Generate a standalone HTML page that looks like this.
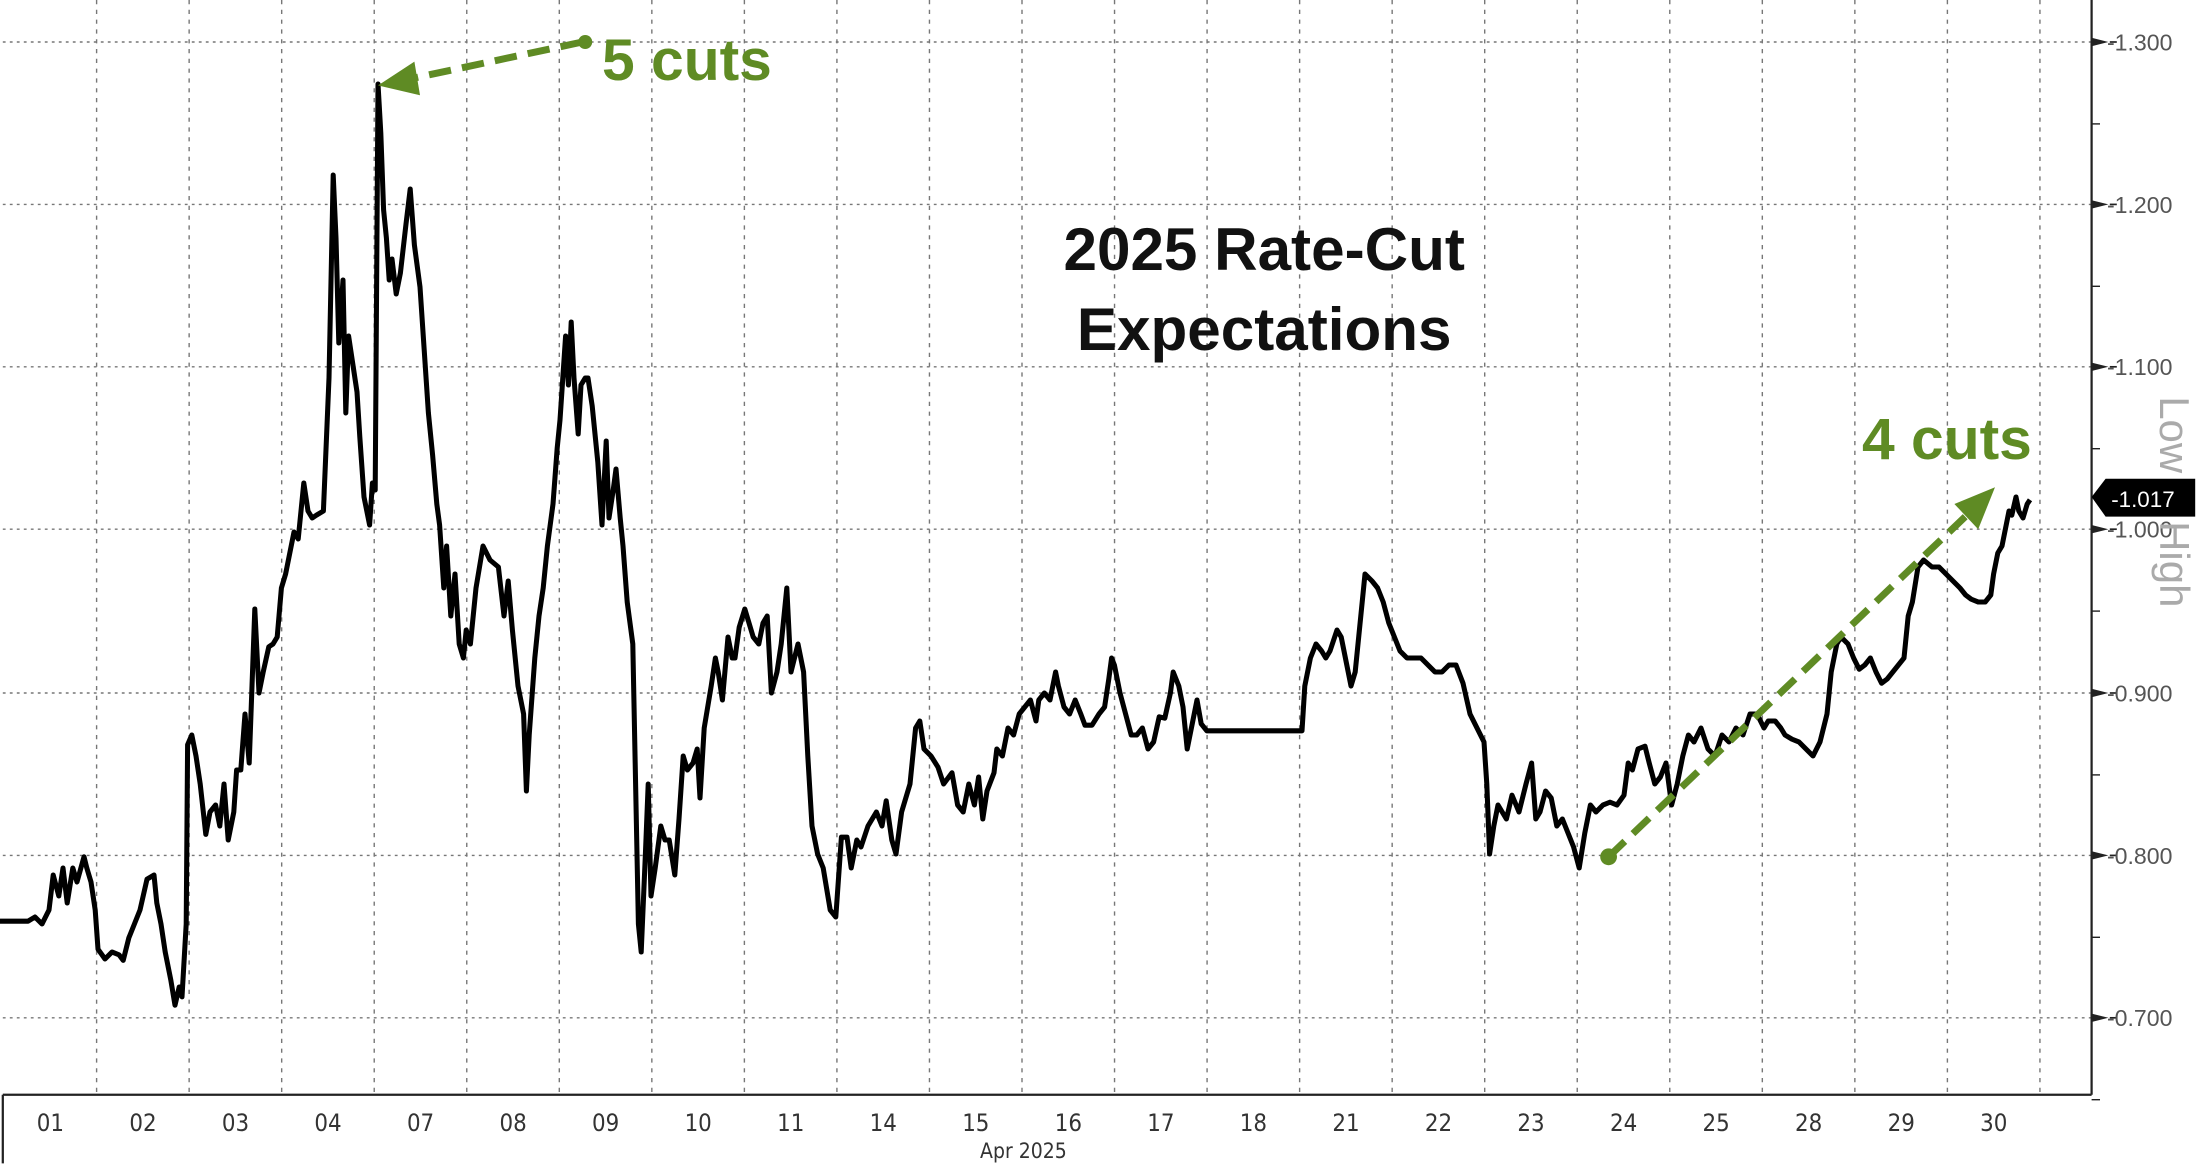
<!DOCTYPE html>
<html><head><meta charset="utf-8"><style>
html,body{margin:0;padding:0;background:#fff;width:2196px;height:1164px;overflow:hidden}
svg{display:block}
</style></head><body>
<svg width="2196" height="1164" viewBox="0 0 1568.57 831.43" xmlns="http://www.w3.org/2000/svg" font-family="Liberation Sans, sans-serif">
<rect width="1568.57" height="831.43" fill="#fff"/>
<g stroke="#777" stroke-width="1" stroke-dasharray="2,3" fill="none">
<line x1="2" y1="30" x2="1494" y2="30"/><line x1="2" y1="146" x2="1494" y2="146"/>
<line x1="2" y1="262" x2="1494" y2="262"/><line x1="2" y1="378" x2="1494" y2="378"/>
<line x1="2" y1="495" x2="1494" y2="495"/><line x1="2" y1="611" x2="1494" y2="611"/>
<line x1="2" y1="727" x2="1494" y2="727"/>
</g>
<g stroke="#777" stroke-width="1" stroke-dasharray="3,4" fill="none" id="vg"></g>
<g stroke="#222" stroke-width="1.6" fill="none">
<line x1="2" y1="782" x2="1494" y2="782"/>
<line x1="1494" y1="0" x2="1494" y2="782"/>
<line x1="2" y1="782" x2="2" y2="831"/>
</g>
<g fill="#222" id="ticks"></g>
<g font-size="16.5" fill="#555" id="ylab"></g>
<g font-size="17" fill="#333" text-anchor="middle" id="xlab" font-family="DejaVu Sans Condensed, Liberation Sans Narrow, sans-serif"></g>
<text x="731" y="827" font-size="15" fill="#333" text-anchor="middle" font-family="DejaVu Sans Condensed, sans-serif">Apr 2025</text>
<text transform="translate(1543,283) rotate(90)" font-size="30" fill="#aaa">Low &gt; High</text>
<polyline id="series" fill="none" stroke="#000" stroke-width="3.6" stroke-linejoin="round"/>
<polygon points="1494,355 1504,342 1568,342 1568,369 1504,369" fill="#000"/>
<text x="1508" y="362" font-size="16" fill="#fff">-1.017</text>
<text x="903" y="193" font-size="43" font-weight="bold" text-anchor="middle" fill="#111">2025 Rate-Cut</text>
<text x="903" y="250" font-size="43" font-weight="bold" text-anchor="middle" fill="#111">Expectations</text>
<g stroke="#5f8b24" stroke-width="5" stroke-dasharray="16,8" fill="none">
<line x1="416" y1="30" x2="290" y2="57"/>
<line x1="1149" y1="612" x2="1408" y2="365"/>
</g>
<g fill="#5f8b24">
<circle cx="418" cy="30" r="5"/><polygon points="270,61 296,44 300,68"/>
<circle cx="1149" cy="612" r="6"/><polygon points="1425,348 1396,360 1413,378"/>
<text x="430" y="57" font-size="42" font-weight="bold">5 cuts</text>
<text x="1330" y="328" font-size="42" font-weight="bold">4 cuts</text>
</g>
</svg>
<script>
var ns="http://www.w3.org/2000/svg";
function el(t,a,p,txt){var e=document.createElementNS(ns,t);for(var k in a)e.setAttribute(k,a[k]);if(txt)e.textContent=txt;document.getElementById(p).appendChild(e);}
for(var k=0;k<=21;k++){var x=69+66.1*k;el('line',{x1:x,y1:0,x2:x,y2:782},'vg');}
var labs=["01","02","03","04","07","08","09","10","11","14","15","16","17","18","21","22","23","24","25","28","29","30"];
labs.forEach(function(l,k){el('text',{x:36+66.1*k,y:808},'xlab',l);});
var yv=[["-1.300",30],["-1.200",146],["-1.100",262],["-1.000",378],["-0.900",495],["-0.800",611],["-0.700",727]];
yv.forEach(function(v){el('polygon',{points:"1494,"+(v[1]-3)+" 1506,"+v[1]+" 1494,"+(v[1]+3)},'ticks');
el('rect',{x:1507,y:v[1]-0.6,width:5,height:1.2},'ticks');
el('rect',{x:1494,y:v[1]+58,width:6,height:1},'ticks');
el('text',{x:1505,y:v[1]+6},'ylab',v[0]);});
var d=[0,658,20,658,25,655,30,660,35,650,38,625,42,640,45,620,48,645,52,620,55,630,60,612,62,620,65,630,68,650,70,678,75,685,80,680,85,682,88,686,92,670,96,660,100,650,105,628,110,625,112,645,115,660,118,680,122,700,125,718,128,705,130,712,133,660,134,532,137,525,140,540,143,560,147,596,150,580,154,575,157,590,160,560,163,600,167,580,169,550,172,550,175,510,178,545,182,435,185,495,188,480,192,462,195,460,198,455,201,420,204,410,207,395,210,380,213,385,217,345,220,365,223,370,226,368,231,365,235,270,238,125,240,170,242,245,245,200,247,295,249,240,252,260,255,280,257,312,260,355,262,365,264,375,266,345,268,350,270,60,272,95,274,150,276,170,278,200,280,185,283,210,286,195,290,160,293,135,296,175,300,205,303,250,306,295,309,325,312,360,314,375,317,420,319,390,322,440,325,410,328,460,331,470,333,450,336,460,340,420,345,390,350,400,356,405,360,440,363,415,366,450,370,490,374,510,376,565,378,525,382,470,385,440,388,420,391,390,395,360,398,320,400,300,404,240,406,275,408,230,410,270,413,310,415,275,418,270,420,270,423,290,427,330,430,375,433,315,435,370,438,350,440,335,443,370,445,390,448,430,452,460,456,660,458,680,461,610,463,560,465,640,468,620,472,590,475,600,478,600,482,625,485,585,488,540,491,550,495,545,498,535,500,570,503,520,508,490,511,470,513,480,516,500,520,455,523,470,525,470,528,448,532,435,538,455,542,460,545,445,548,440,551,495,555,480,558,460,562,420,565,480,570,460,574,480,577,540,580,590,584,610,588,620,593,650,597,655,601,598,605,598,608,620,612,600,615,605,620,590,626,580,630,590,633,572,637,600,640,610,644,580,650,560,654,520,657,515,660,535,665,540,670,548,674,560,680,552,684,575,688,580,692,560,696,575,699,555,702,585,705,565,710,552,712,535,716,540,720,520,724,525,728,510,732,505,736,500,740,515,742,500,746,495,750,500,754,480,756,490,760,505,764,510,768,500,772,510,775,518,780,518,785,510,789,505,792,485,794,470,796,475,800,495,804,510,808,525,812,525,816,520,820,535,824,530,828,512,832,513,836,495,838,480,842,490,845,505,848,535,852,515,855,500,858,517,862,522,930,522,932,490,936,470,940,460,944,465,947,470,950,465,955,450,958,455,962,475,965,490,968,480,972,440,975,410,980,415,984,420,988,430,992,445,996,455,1000,465,1005,470,1010,470,1015,470,1020,475,1025,480,1030,480,1035,475,1040,475,1045,488,1050,510,1055,520,1060,530,1062,560,1064,610,1067,590,1070,575,1073,580,1076,585,1080,568,1085,580,1090,560,1094,545,1097,585,1100,580,1104,565,1108,570,1112,590,1116,585,1120,595,1124,605,1128,620,1132,595,1136,575,1140,580,1145,575,1150,573,1155,575,1160,568,1163,545,1166,550,1170,535,1175,533,1178,545,1182,560,1186,555,1190,545,1194,575,1198,560,1202,540,1206,525,1210,530,1215,520,1220,535,1225,540,1230,525,1235,530,1240,520,1245,525,1250,510,1255,510,1260,520,1263,515,1268,515,1272,520,1275,525,1280,528,1285,530,1290,535,1295,540,1300,530,1305,510,1308,480,1312,460,1315,455,1320,460,1324,470,1328,478,1332,475,1336,470,1340,480,1344,488,1348,485,1352,480,1356,475,1360,470,1363,440,1366,430,1370,405,1374,400,1380,405,1385,405,1390,410,1395,415,1400,420,1404,425,1408,428,1413,430,1418,430,1422,425,1424,410,1427,395,1430,390,1432,380,1435,365,1437,368,1440,355,1442,365,1445,370,1448,360,1450,357];
var p=[];for(var i=0;i<d.length;i+=2)p.push(d[i]+","+d[i+1]);
document.getElementById('series').setAttribute('points',p.join(' '));
</script>
</body></html>
